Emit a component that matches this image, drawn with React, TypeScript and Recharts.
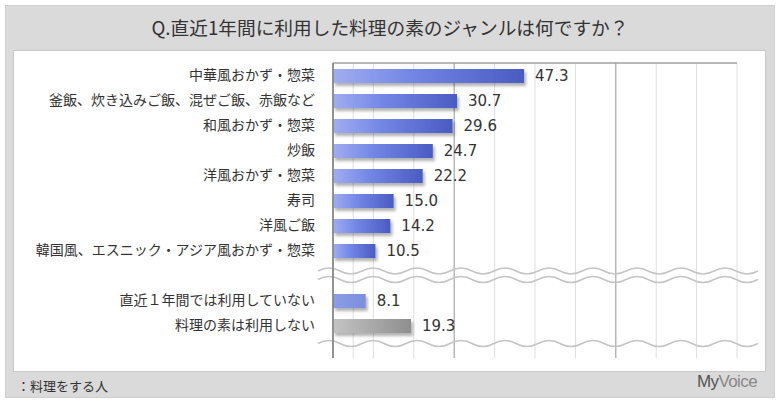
import { Bar, BarChart, CartesianGrid, Cell, LabelList, ReferenceArea, ReferenceLine, XAxis, YAxis } from "recharts";

const BREAK = " ";

const categories = [
  "中華風おかず・惣菜",
  "釜飯、炊き込みご飯、混ぜご飯、赤飯など",
  "和風おかず・惣菜",
  "炒飯",
  "洋風おかず・惣菜",
  "寿司",
  "洋風ご飯",
  "韓国風、エスニック・アジア風おかず・惣菜",
  BREAK,
  "直近１年間では利用していない",
  "料理の素は利用しない",
];

const values: (number | null)[] = [47.3, 30.7, 29.6, 24.7, 22.2, 15.0, 14.2, 10.5, null, 8.1, 19.3];

const gridTicks = [5, 10, 15, 20, 25, 30, 35, 40, 45, 50, 55, 60, 65, 70, 75, 80, 85, 90, 95, 100];
const majorTicks = [20, 40, 60, 80, 100];

const data = categories.map((name, i) => ({ name, value: values[i] }));

const jp = "'Noto Sans CJK JP', 'Noto Sans', sans-serif";

function barFill(i: number) {
  if (i === categories.length - 1) return "url(#gGray)";
  if (i === categories.length - 2) return "url(#gLight)";
  return "url(#gBlue)";
}

function wave(x0: number, x1: number, y: number, period = 44, amp = 3) {
  const h = period / 2;
  let d = `M${x0},${y} Q${x0 + h / 2},${y - amp * 2} ${x0 + h},${y}`;
  for (let x = x0 + h; x < x1; x += h) d += ` T${x + h},${y}`;
  return d;
}

type LineProps = { x1?: number; x2?: number; y1?: number; y2?: number; index?: number };

function gridLine(p: LineProps) {
  const major = majorTicks.includes(gridTicks[Number(p.index)]);
  return (
    <line
      key={`g${p.index}`}
      x1={p.x1}
      x2={p.x2}
      y1={p.y1}
      y2={p.y2}
      stroke={major ? "#a6a6a6" : "#dedede"}
      strokeWidth={major ? 1.2 : 1}
    />
  );
}

function breakShape(p: LineProps) {
  const x1 = Number(p.x1), x2 = Number(p.x2), y = Number(p.y1);
  return (
    <g fill="none" stroke="#c4c4c4" strokeWidth={1.5}>
      <path d={wave(x1 - 15, x2 + 16, y - 4.5)} />
      <path d={wave(x1 - 15, x2 + 16, y + 4)} />
    </g>
  );
}

function bottomWave(p: LineProps) {
  const x1 = Number(p.x1), x2 = Number(p.x2), y = Number(p.y1);
  return <path d={wave(x1 - 15, x2 + 16, y + 18)} fill="none" stroke="#c4c4c4" strokeWidth={1.5} />;
}

function topBorder(p: { x?: number; y?: number; width?: number }) {
  const x = Number(p.x), y = Number(p.y), w = Number(p.width);
  return <line x1={x} y1={y} x2={x + w} y2={y} stroke="#a0a0a0" strokeWidth={1.5} />;
}

export default function App() {
  return (
    <div style={{ position: "absolute", left: 0, top: 0, width: 780, height: 405, background: "#fff", fontFamily: jp }}>
      <div style={{ position: "absolute", left: 5, top: 5, width: 768, height: 391, background: "#dadada", border: "1px solid #cfcfcf" }} />
      <div style={{ position: "absolute", left: 13, top: 50, width: 751, height: 320, background: "#fff", border: "1px solid #c8c8c8" }} />
      <div style={{ position: "absolute", left: 5, top: 13, width: 770, textAlign: "center", fontSize: 18.7, color: "#333" }}>
        Q.直近1年間に利用した料理の素のジャンルは何ですか？
      </div>
      <div style={{ position: "absolute", left: 17, top: 376, fontSize: 13, color: "#333" }}>：料理をする人</div>
      <div style={{ position: "absolute", left: 697, top: 372, fontSize: 17, fontFamily: "'Liberation Sans', sans-serif", letterSpacing: -0.6 }}>
        <span style={{ color: "#555" }}>My</span>
        <span style={{ color: "#888" }}>Voice</span>
      </div>

      <svg width={0} height={0} style={{ position: "absolute" }}>
        <defs>
          <linearGradient id="gBlue" x1="0" y1="0" x2="1" y2="0">
            <stop offset="0" stopColor="#a2adf0" />
            <stop offset="0.4" stopColor="#7387e6" />
            <stop offset="1" stopColor="#4a5bc2" />
          </linearGradient>
          <linearGradient id="gLight" x1="0" y1="0" x2="1" y2="0">
            <stop offset="0" stopColor="#8d9de8" />
            <stop offset="1" stopColor="#7b8edc" />
          </linearGradient>
          <linearGradient id="gGray" x1="0" y1="0" x2="1" y2="0">
            <stop offset="0" stopColor="#c4c4c4" />
            <stop offset="1" stopColor="#8e8e8e" />
          </linearGradient>
          <filter id="shadow" x="-5%" y="-30%" width="115%" height="180%">
            <feDropShadow dx="2" dy="3" stdDeviation="1.5" floodColor="#000" floodOpacity="0.3" />
          </filter>
        </defs>
      </svg>

      <div style={{ position: "absolute", left: 0, top: 0 }}>
        <BarChart
          width={780}
          height={405}
          data={data}
          layout="vertical"
          margin={{ top: 63, right: 43, bottom: 47, left: 13 }}
        >
          <CartesianGrid horizontal={false} vertical={gridLine} />
          <XAxis type="number" domain={[0, 100]} ticks={gridTicks} hide />
          <YAxis
            type="category"
            dataKey="name"
            width={320}
            interval={0}
            tickLine={false}
            tickSize={0}
            tickMargin={18}
            padding={{ top: 0, bottom: 20 }}
            axisLine={{ stroke: "#808080", strokeWidth: 1.5 }}
            tick={{ fill: "#333", fontSize: 14, fontFamily: jp }}
          />
          <ReferenceArea x1={0} x2={100} shape={topBorder} />
          <ReferenceLine y={BREAK} shape={breakShape} />
          <ReferenceLine y={categories[categories.length - 1]} shape={bottomWave} />
          <Bar dataKey="value" barSize={14} isAnimationActive={false}>
            {data.map((d, i) => (
              <Cell key={d.name + i} fill={barFill(i)} filter="url(#shadow)" />
            ))}
            <LabelList
              dataKey="value"
              position="right"
              offset={11}
              fill="#333"
              fontSize={15}
              fontFamily="'DejaVu Sans', sans-serif"
              formatter={(v: unknown) => (v == null ? "" : Number(v).toFixed(1))}
            />
          </Bar>
        </BarChart>
      </div>
    </div>
  );
}
